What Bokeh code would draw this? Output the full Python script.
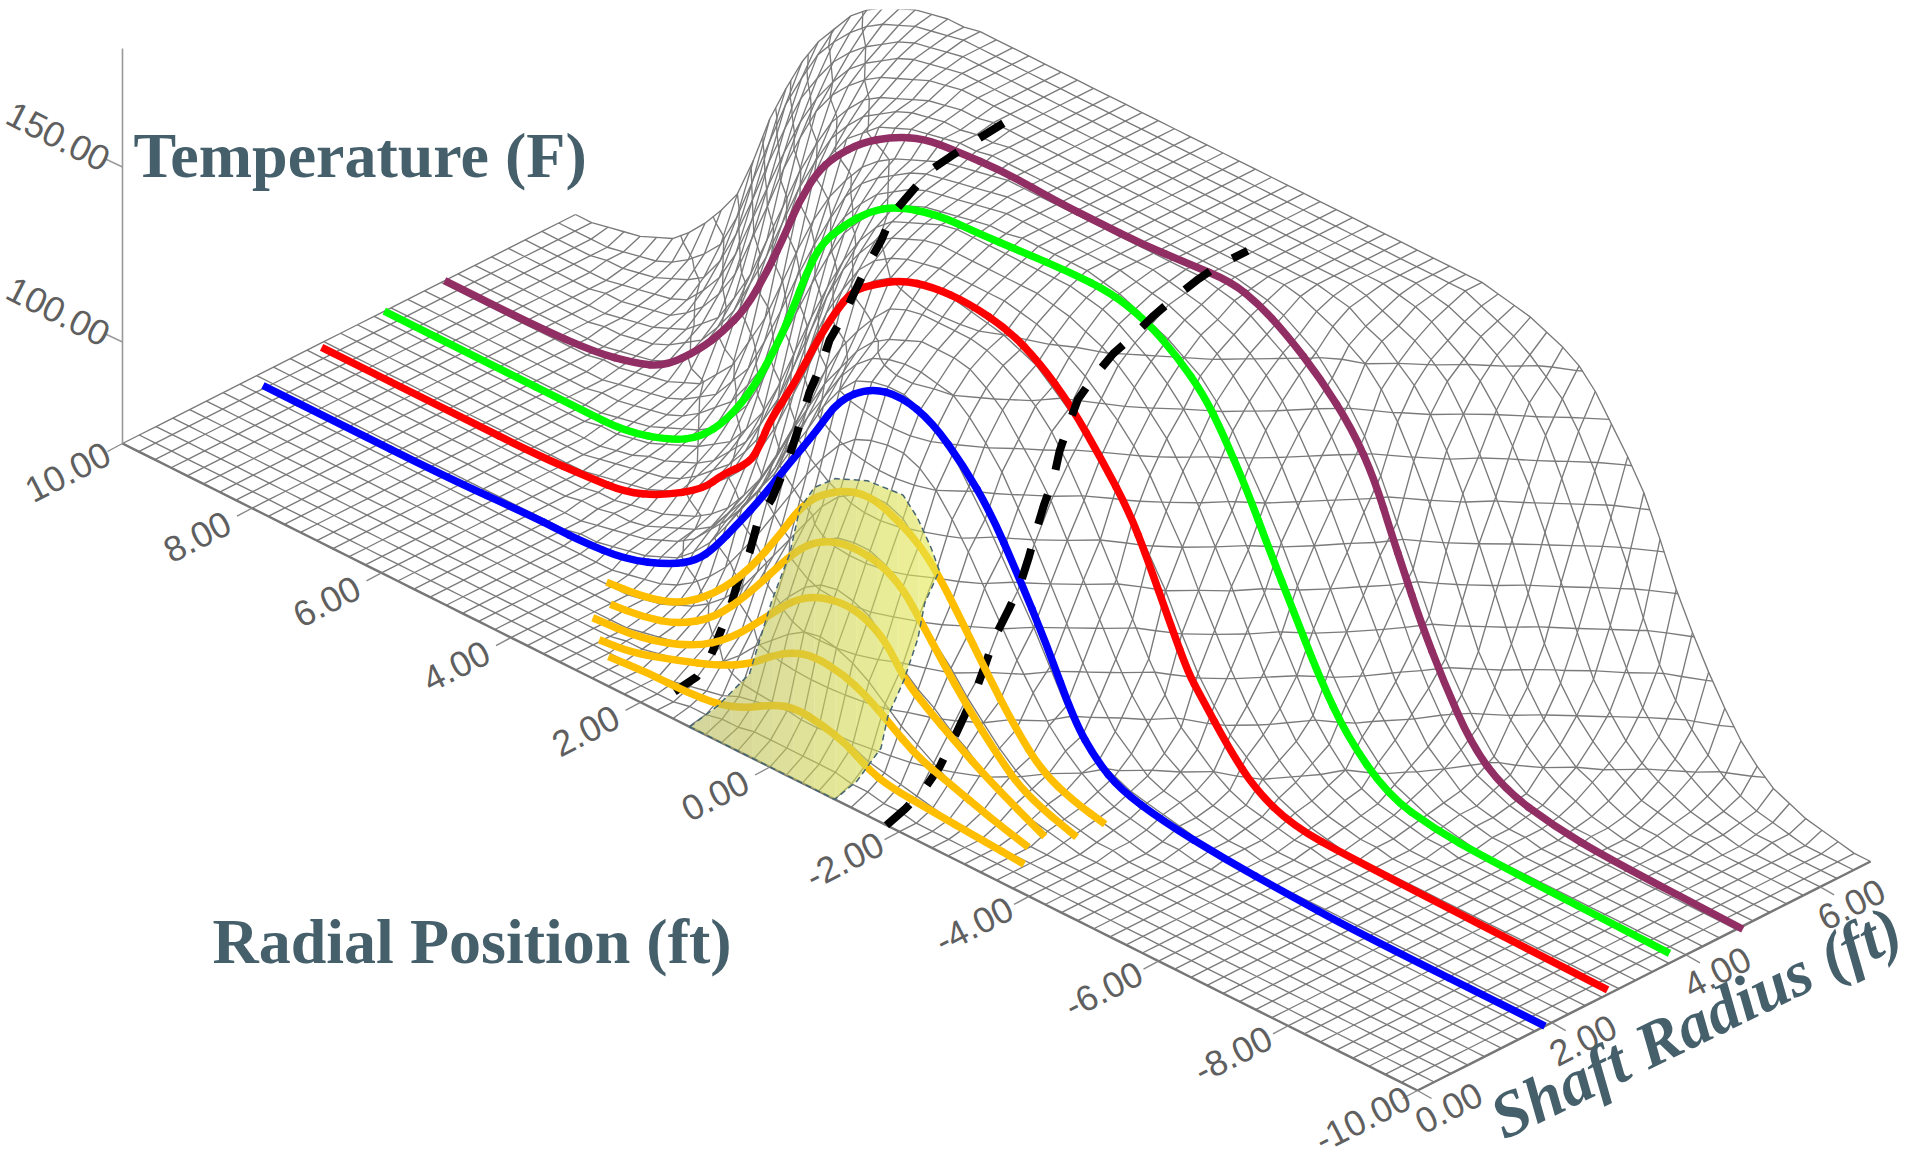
import numpy as np
from bokeh.plotting import figure
from bokeh.embed import file_html
from bokeh.resources import INLINE
from bokeh.core.properties import value

# ---------- data ----------
BASE_T = 71          # floor temperature (F)
radial = [10 - 0.25 * i for i in range(81)]
shaft = [0.25 * j for j in range(28)]

# rise above BASE_T (F); rows: shaft radius; columns: radial 10, 9.5, ... -10
rise = [
 [0,0,0,0,0,0,0,0,0,0, 0,0,0,0,0,0,0,0,0,0, 0,0,0,0,0,0,0,0,0,0, 0,0,0,0,0,0,0,0,0,0,0],
 [0,0,0,0,0,0,0,0,0,0, 0,0,0,0,0,0,0,1,2,3, 3,3,2,1,0,0,0,0,0,0, 0,0,0,0,0,0,0,0,0,0,0],
 [0,0,0,0,0,0,0,0,0,0, 0,0,0,0,0,0,1,3,6,8, 10,9,6,4,2,1,0,0,0,0, 0,0,0,0,0,0,0,0,0,0,0],
 [0,0,0,0,0,0,0,0,0,0, 0,0,0,0,1,2,4,9,18,26, 30,27,20,13,7,3,1,0,0,0, 0,0,0,0,0,0,0,0,0,0,0],
 [0,0,0,0,0,0,0,0,0,0, 0,0,0,0,1,3,7,14,26,37, 41,38,28,21,14,7,3,1,0,0, 0,0,0,0,0,0,0,0,0,0,0],
 [0,0,0,0,0,0,0,0,0,0, 0,0,0,1,2,6,14,26,39,48, 52,50,40,30,19,10,5,2,1,0, 0,0,0,0,0,0,0,0,0,0,0],
 [0,0,0,0,0,0,0,0,0,0, 0,0,0,1,4,9,18,32,46,58, 63,61,50,37,23,12,6,3,1,0, 0,0,0,0,0,0,0,0,0,0,0],
 [0,0,0,0,0,0,0,0,0,0, 0,0,1,3,8,17,31,47,62,72, 75,73,63,48,32,18,9,4,2,1, 0,0,0,0,0,0,0,0,0,0,0],
 [0,0,0,0,0,0,0,0,0,0, 1,2,4,8,17,32,46,63,79,86, 87,82,70,55,39,21,10,6,4,2, 1,0,0,0,0,0,0,0,0,0,0],
 [0,0,0,0,0,0,0,0,0,0, 1,3,6,11,21,34,53,70,84,90, 91,89,80,66,49,31,16,8,5,2, 1,0,0,0,0,0,0,0,0,0,0],
 [0,0,0,0,0,0,0,0,0,1, 2,3,7,12,24,41,60,76,88,93, 95,94,87,75,59,41,24,12,6,3, 1,0,0,0,0,0,0,0,0,0,0],
 [0,0,0,0,0,0,0,0,0,1, 2,4,8,15,28,47,68,84,95,98, 98,97,92,83,68,50,32,17,9,4, 2,1,0,0,0,0,0,0,0,0,0],
 [0,0,0,0,0,0,0,0,0,2, 4,8,15,24,41,63,85,96,101,102, 101,99,95,87,78,65,49,30,17,9, 4,1,0,0,0,0,0,0,0,0,0],
 [0,0,0,0,0,0,0,0,1,3, 5,10,18,31,51,75,92,100,103,104, 104,103,100,94,86,75,59,40,23,12, 5,2,1,0,0,0,0,0,0,0,0],
 [0,0,0,0,0,0,0,0,1,4, 7,12,22,39,63,85,98,103,106,106, 106,106,104,100,93,83,68,50,30,15, 7,3,1,0,0,0,0,0,0,0,0],
 [0,0,0,0,0,0,0,1,2,5, 9,15,28,50,73,91,101,105,108,108, 108,108,107,104,98,89,76,58,38,20, 9,4,2,1,0,0,0,0,0,0,0],
 [0,0,0,0,0,0,0,1,3,7, 12,23,45,67,86,97,103,106,108,109, 110,110,109,106,102,96,85,69,50,31, 16,7,3,1,0,0,0,0,0,0,0],
 [0,0,0,0,0,0,1,2,4,9, 17,32,55,78,92,100,105,107,109,110, 110,110,110,108,105,100,91,77,59,39, 21,10,4,2,1,0,0,0,0,0,0],
 [0,0,0,0,0,0,1,3,6,12, 24,45,68,87,97,103,106,108,110,110, 110,110,110,109,107,103,96,84,67,47, 27,13,5,2,1,0,0,0,0,0,0],
 [0,0,0,0,0,1,2,4,8,18, 36,60,80,93,100,104,107,109,110,110, 110,110,110,110,109,106,100,90,75,56, 34,17,7,3,1,0,0,0,0,0,0],
 [0,0,0,0,0,1,3,8,18,33, 56,79,94,102,106,108,109,110,110,110, 110,110,110,110,110,108,103,95,83,63, 41,23,10,4,2,1,0,0,0,0,0],
 [0,0,0,0,1,2,5,11,24,44, 68,87,98,104,107,108,109,110,110,110, 110,110,110,110,110,110,107,102,94,78, 57,33,18,9,4,1,0,0,0,0,0],
 [0,0,0,0,1,3,7,15,32,56, 78,93,101,105,108,109,110,110,110,110, 110,110,110,110,110,110,109,105,99,89, 71,47,25,13,7,2,1,0,0,0,0],
 [0,0,0,1,2,4,11,25,49,73, 90,99,104,108,110,110,110,110,110,110, 110,110,110,110,110,110,110,107,103,96, 80,60,35,19,10,4,2,1,0,0,0],
 [0,0,0,1,3,6,17,38,62,82, 95,102,107,109,110,110,110,110,110,110, 110,110,110,110,110,110,110,109,106,100, 90,73,50,27,14,7,3,1,0,0,0],
 [0,0,1,2,5,10,27,52,75,90, 99,105,108,110,110,110,110,110,110,110, 110,110,110,110,110,110,110,110,108,104, 97,85,64,40,21,11,5,2,1,0,0],
 [0,0,1,3,8,17,40,66,85,96, 103,107,109,110,110,110,110,110,110,110, 110,110,110,110,110,110,110,110,110,106, 101,93,77,55,31,17,8,3,1,0,0],
 [0,1,3,7,16,29,55,76,90,100, 105,108,109,110,110,110,110,110,110,110, 110,110,110,110,110,110,110,110,110,108, 105,100,88,73,50,31,16,7,3,1,0],
]
# same rows, columns at radial 9.75, 9.25, ... -9.75
rise_mid = [
 [0,0,0,0,0,0,0,0,0,0, 0,0,0,0,0,0,0,0,0,0, 0,0,0,0,0,0,0,0,0,0, 0,0,0,0,0,0,0,0,0,0],
 [0,0,0,0,0,0,0,0,0,0, 0,0,0,0,0,0,0,1,2,3, 3,3,2,1,0,0,0,0,0,0, 0,0,0,0,0,0,0,0,0,0],
 [0,0,0,0,0,0,0,0,0,0, 0,0,0,0,0,0,2,4,7,9, 10,8,5,3,1,0,0,0,0,0, 0,0,0,0,0,0,0,0,0,0],
 [0,0,0,0,0,0,0,0,0,0, 0,0,0,0,1,3,6,13,22,29, 29,24,16,10,5,2,0,0,0,0, 0,0,0,0,0,0,0,0,0,0],
 [0,0,0,0,0,0,0,0,0,0, 0,0,0,0,2,5,10,20,32,40, 40,33,24,17,10,5,2,0,0,0, 0,0,0,0,0,0,0,0,0,0],
 [0,0,0,0,0,0,0,0,0,0, 0,0,0,1,3,9,20,33,44,51, 52,46,35,24,14,7,3,1,0,0, 0,0,0,0,0,0,0,0,0,0],
 [0,0,0,0,0,0,0,0,0,0, 0,0,0,2,6,13,25,39,53,61, 63,56,44,30,17,9,4,2,0,0, 0,0,0,0,0,0,0,0,0,0],
 [0,0,0,0,0,0,0,0,0,0, 0,0,2,5,12,24,39,55,68,74, 75,69,56,40,25,13,6,3,1,0, 0,0,0,0,0,0,0,0,0,0],
 [0,0,0,0,0,0,0,0,0,0, 1,3,6,12,24,39,55,72,84,87, 85,77,63,47,30,15,8,5,3,1, 0,0,0,0,0,0,0,0,0,0],
 [0,0,0,0,0,0,0,0,0,0, 2,4,8,16,27,43,62,78,88,91, 90,85,74,58,40,23,12,6,3,1, 0,0,0,0,0,0,0,0,0,0],
 [0,0,0,0,0,0,0,0,0,1, 2,5,9,18,32,51,69,83,91,95, 95,91,81,68,50,32,18,9,4,2, 0,0,0,0,0,0,0,0,0,0],
 [0,0,0,0,0,0,0,0,0,1, 3,6,11,21,37,58,77,90,97,98, 98,95,88,76,59,41,24,13,6,3, 1,0,0,0,0,0,0,0,0,0],
 [0,0,0,0,0,0,0,0,1,3, 6,11,19,32,52,75,91,99,102,102, 100,97,91,83,72,57,39,23,13,6, 2,0,0,0,0,0,0,0,0,0],
 [0,0,0,0,0,0,0,0,2,4, 7,14,24,41,63,84,97,102,104,104, 104,102,97,90,81,67,49,31,17,8, 3,1,0,0,0,0,0,0,0,0],
 [0,0,0,0,0,0,0,0,2,5, 9,17,30,51,75,92,101,105,106,106, 106,105,102,97,88,76,59,40,22,11, 5,2,0,0,0,0,0,0,0,0],
 [0,0,0,0,0,0,0,1,3,7, 12,21,38,62,83,97,103,107,108,108, 108,108,106,101,94,83,67,48,29,14, 6,3,1,0,0,0,0,0,0,0],
 [0,0,0,0,0,0,0,2,5,9, 17,33,56,77,92,100,105,107,109,110, 110,110,108,104,99,91,77,60,40,23, 11,5,2,0,0,0,0,0,0,0],
 [0,0,0,0,0,0,1,3,6,13, 24,43,67,86,97,103,106,108,110,110, 110,110,109,107,103,96,85,68,49,30, 15,7,3,1,0,0,0,0,0,0],
 [0,0,0,0,0,0,2,4,9,18, 34,57,78,93,100,105,107,109,110,110, 110,110,110,108,105,100,91,76,57,37, 20,9,3,1,0,0,0,0,0,0],
 [0,0,0,0,0,1,3,6,13,27, 48,71,87,97,102,106,108,110,110,110, 110,110,110,110,108,103,96,83,66,45, 25,12,5,2,0,0,0,0,0,0],
 [0,0,0,0,0,2,5,13,25,45, 68,87,98,104,107,109,110,110,110,110, 110,110,110,110,109,106,100,90,74,52, 31,16,7,3,1,0,0,0,0,0],
 [0,0,0,0,1,3,8,17,34,56, 78,93,101,106,108,109,110,110,110,110, 110,110,110,110,110,109,105,99,87,68, 45,25,13,6,2,0,0,0,0,0],
 [0,0,0,0,2,5,11,23,44,68, 87,98,103,107,109,110,110,110,110,110, 110,110,110,110,110,110,108,103,95,81, 59,35,18,9,4,1,0,0,0,0],
 [0,0,0,1,3,7,17,37,62,83, 95,102,106,109,110,110,110,110,110,110, 110,110,110,110,110,110,109,105,100,89, 70,47,26,14,7,3,1,0,0,0],
 [0,0,0,2,4,11,26,50,73,89, 99,105,108,110,110,110,110,110,110,110, 110,110,110,110,110,110,110,108,103,96, 82,62,38,20,10,5,2,0,0,0],
 [0,0,1,3,7,17,39,64,83,95, 102,107,109,110,110,110,110,110,110,110, 110,110,110,110,110,110,110,109,106,101, 92,75,52,30,15,8,3,1,0,0],
 [0,0,2,5,12,27,53,76,91,100, 105,108,110,110,110,110,110,110,110,110, 110,110,110,110,110,110,110,110,108,104, 97,86,66,42,23,12,5,2,0,0],
 [0,2,5,11,22,41,66,84,96,103, 107,109,110,110,110,110,110,110,110,110, 110,110,110,110,110,110,110,110,109,107, 103,95,81,62,40,23,11,5,2,0],
]

contour_temps = [80, 90, 100, 110, 120, 130, 140, 150, 160, 170]

blue_s = 1.9
blue_r = [9.8,8.68,6.97,5.71,5.24,4.9,4.2,3.5,3.1,2.83,2.44,2.1,1.67,1.25,.91,.42,-.06,-.54,-1.02,-1.44,-1.85,-2.3,-2.73,-3.07,-3.44,-4.1,-5.05,-6,-7,-10]
blue_t = [0,0,0,1,1,1,2,7,12,18,29,39,53,66,78,86,88,85,77,67.5,54,38,20,12,7,4,2,1,0,0]

red_s = 2.9
red_r = [9.93,7.79,6.61,5.79,5.24,4.7,4.03,3.74,3.32,3.15,3.01,2.63,2.29,2.01,1.73,1.39,.97,.5,-.06,-.68,-1.16,-1.63,-2.13,-2.55,-2.81,-3.18,-3.46,-3.64,-4.08,-4.49,-5.06,-5.97,-9.93]
red_t = [0,0,0,1,2,6,14,21,28,35,43,57,72,83,92,97,102,104.5,105,103,98,90.5,79,68,58,42,30.5,26,15,7,2,1,0]

green_s = 3.9
green_r = [10,8.35,6.97,6.28,5.58,5.12,4.7,4.29,3.92,3.67,3.5,3.27,2.91,2.49,2.09,1.46,.84,.16,-.59,-1.23,-1.77,-2.26,-2.66,-2.94,-3.3,-3.7,-4.02,-4.44,-4.87,-5.5,-6.22,-7,-9.85]
green_t = [0,0,0,0,4,9,18,31,47,60,70,81,90,98,103,106.6,107,108,109,109,106,100,93,85,73,57,45,29,16,5,2,1,0]

purple_s = 4.8
purple_r = [10,8.58,7.68,7.07,6.59,6.05,5.71,5.35,5.01,4.73,4.53,4.25,3.98,3.56,3.08,2.6,2.12,1.35,.53,-.08,-.78,-1.47,-2.15,-2.57,-2.99,-3.53,-4.02,-4.36,-4.64,-4.8,-5.07,-5.43,-5.86,-6.36,-7.13,-7.98,-10.05]
purple_t = [0,0,1,3.5,7,17,25,35,49,62.5,73,84,91,99,105,109,110,111,110,110,110,111,112,109.5,105,97,87,76,62,54.6,42,28,14,6,2.5,1,0]

orange_s = [1.53, 1.23, 0.9, 0.62, 0.44]
orange_r = [
 [4.11,3.55,3,2.44,1.9,1.41,1.15,.85,.36,-.03,-.41,-.75,-1.03,-1.36,-1.74,-2.19,-2.62,-3.12,-3.59],
 [3.74,3.24,2.69,2.13,1.59,.97,.65,.29,-.06,-.45,-.79,-1.07,-1.39,-1.78,-2.22,-2.66,-3.46],
 [3.67,2.9,2.12,1.52,.99,.58,.22,-.2,-.53,-.86,-1.14,-1.52,-1.91,-2.46,-3.31],
 [3.28,2.78,2.11,1.39,.93,.62,.3,-.04,-.48,-.86,-1.17,-1.63,-2.13,-2.75,-3.35],
 [2.95,2.32,1.76,1.24,.82,.39,.05,-.34,-.73,-1.05,-1.39,-2.04,-2.76,-3.47],
]
orange_t = [
 [0,1,4,12,24,39,48,55,61,62,59,55,49,40,29,17,8,4,2],
 [0,1,4,11,23,39.5,46,50,51,50,46,39,31,21.5,12.5,5,0],
 [0,1,6,14,25,33.5,38,40,39,35,27,21.5,16.5,10,2],
 [0,1,5,10,15,20,24,26,25,22,18,12,9,5,2],
 [0,1,1,2,5,10,12,11,9,5,3,2,1,0],
]

dash1_r = 1.9
dash1_s = [.41,.74,.95,1.11,1.26,1.35,1.53,1.66,1.86,2.03,2.17,2.29,2.42,2.59,2.72,2.93,3.09,3.29,3.49,3.66,3.9,4.22,4.52,4.9,5.36]
dash1_t = [0,1,5,11,17,22,29,37,41,47,53,59,66,72,78,83,88,94,99,105,108,112,113,114,115]
dash2_r = -1.8
dash2_s = [0,.28,.57,.79,1.0,1.16,1.34,1.48,1.61,1.82,1.98,2.12,2.22,2.35,2.49,2.58,2.71,2.85,3.08,3.38,3.65,3.98,4.28,4.65,4.95,5.38]
dash2_t = [0,2,5,9,15,20,26,32,38,44,49,56,62,69,75,82,88,94,98,102,104,107,109,111,112,112]

patch_r = [1.24,1.24,1.24,1.24,1.24,1.24,1.24,1.18,.86,.36,-.19,-.41,-.62,-.75,-1,-1,-1,-1,-1,-1,-1,-.56,.15,.81]
patch_s = [0,.42,.89,1.03,1.22,1.49,1.64,1.8,1.8,1.8,1.8,1.8,1.8,1.8,1.34,1.24,1.03,.79,.69,.33,0,0,0,0]
patch_t = [0,2,6.5,14,24,35,46.5,51.5,57,61,62,57.6,51,45.6,43,34,24,16,8,2,0,0,0,0]

radial_ticks = [10, 8, 6, 4, 2, 0, -2, -4, -6, -8, -10]
shaft_ticks = [0, 2, 4, 6]
temp_ticks = [100, 150]
FONT_TICK = "Liberation Sans"
FONT_TITLE = "Liberation Serif"

# ---------- projection of the 3D box onto the page ----------
def gx(r, s):
    r, s = np.asarray(r, float), np.asarray(s, float)
    return 122 + 1295 * (10 - r) / 20 + 453 * s / 6.75

def gy(r, s, dT=0):
    r, s, dT = np.asarray(r, float), np.asarray(s, float), np.asarray(dT, float)
    return 443 + 647 * (10 - r) / 20 - 229 * s / 6.75 - 3.5 * dT

R = np.array(radial)
S = np.array(shaft)
H = np.zeros((len(S), len(R)))
H[:, ::2] = np.array(rise, float)
H[:, 1::2] = np.array(rise_mid, float)

p = figure(width=1920, height=1160, x_range=(0, 1920), y_range=(1160, 9),
           tools="", toolbar_location=None, output_backend="svg",
           x_axis_location=None, y_axis_location=None, min_border=0, min_border_top=9)
p.grid.visible = False
p.outline_line_color = None
p.background_fill_color = "white"

MESH = "#7a7a7a"
MESH_W = 1.35
xs, ys = [], []
for j, s in enumerate(S):
    xs.append(gx(R, s).tolist()); ys.append(gy(R, s, H[j]).tolist())
for i, r in enumerate(R):
    xs.append(gx(r, S).tolist()); ys.append(gy(r, S, H[:, i]).tolist())
p.multi_line(xs, ys, line_color=MESH, line_width=MESH_W)

# contour lines of the temperature surface (marching squares over the mesh)
cx, cy = [], []
for T in contour_temps:
    L = T - BASE_T
    for j in range(len(S) - 1):
        for i in range(len(R) - 1):
            corners = [(R[i], S[j], H[j, i]), (R[i + 1], S[j], H[j, i + 1]),
                       (R[i + 1], S[j + 1], H[j + 1, i + 1]), (R[i], S[j + 1], H[j + 1, i])]
            pts = []
            for k in range(4):
                a, b = corners[k], corners[(k + 1) % 4]
                if (a[2] < L) != (b[2] < L):
                    f = (L - a[2]) / (b[2] - a[2])
                    pts.append((a[0] + f * (b[0] - a[0]), a[1] + f * (b[1] - a[1])))
            for q in range(0, len(pts) - 1, 2):
                (r0, s0), (r1, s1) = pts[q], pts[q + 1]
                cx.append([float(gx(r0, s0)), float(gx(r1, s1))])
                cy.append([float(gy(r0, s0, L)), float(gy(r1, s1, L))])
p.multi_line(cx, cy, line_color=MESH, line_width=MESH_W)

# box edges, axis, ticks
p.line(gx(R, 0), gy(R, 0), line_color="#777777", line_width=2.4)
p.line(gx(-10, S), gy(-10, S), line_color="#777777", line_width=2.4)
p.line([122, 122], [443, 48], line_color="#999999", line_width=1.6)

TICK = dict(text_align="center", text_baseline="middle", text_font=value(FONT_TICK),
            text_font_size="36px", text_color="#5f5f5f")
for r in radial_ticks:
    x0, y0 = float(gx(r, 0)), float(gy(r, 0))
    p.line([x0, x0 - 15], [y0, y0 + 8], line_color="#888888", line_width=1.4)
    p.text([x0 - 55], [y0 + 28], text=["%.2f" % r], angle=np.radians(27), **TICK)
for s in shaft_ticks:
    x0, y0 = float(gx(-10, s)), float(gy(-10, s))
    p.line([x0, x0 + 14], [y0, y0 + 8], line_color="#888888", line_width=1.4)
    p.text([x0 + 31], [y0 + 17], text=["%.2f" % s], angle=np.radians(27), **TICK)
for T in temp_ticks:
    y0 = 443 - 3.5 * (T - BASE_T)
    p.line([122, 105], [y0, y0 - 8], line_color="#999999", line_width=1.4)
    p.text([58], [y0 - 31], text=["%.2f" % T], angle=np.radians(-27), **TICK)

def curve(xv, yv, color, width):
    """Draw the read points with quadratic curves so the thick line has no corners."""
    xv, yv = np.asarray(xv, float), np.asarray(yv, float)
    mx, my = (xv[:-1] + xv[1:]) / 2, (yv[:-1] + yv[1:]) / 2
    p.line([xv[0], mx[0]], [yv[0], my[0]], line_color=color, line_width=width)
    p.line([mx[-1], xv[-1]], [my[-1], yv[-1]], line_color=color, line_width=width)
    p.quadratic(x0=mx[:-1], y0=my[:-1], x1=mx[1:], y1=my[1:], cx=xv[1:-1], cy=yv[1:-1],
                line_color=color, line_width=width, line_cap="round")

W = 7.5
for s, rr, tt, col in [(blue_s, blue_r, blue_t, "#0000ff"), (red_s, red_r, red_t, "#ff0000"),
                       (green_s, green_r, green_t, "#00ff00"), (purple_s, purple_r, purple_t, "#912f65")]:
    curve(gx(rr, s), gy(rr, s, tt), col, W)

for r, ss, tt, dash in [(dash1_r, dash1_s, dash1_t, "28 26"), (dash2_r, dash2_s, dash2_t, "31 26")]:
    p.line(gx(r, ss), gy(r, ss, tt), line_color="black", line_width=8, line_dash=dash)

for s, rr, tt in zip(orange_s, orange_r, orange_t):
    curve(gx(rr, s), gy(rr, s, tt), "#ffbf00", W)

# translucent patch, shaded from left to right in vertical bands
px_ = gx(patch_r, patch_s)
py_ = gy(patch_r, patch_s, patch_t)

def clip(poly, xlim, keep_right):
    out = []
    for k in range(len(poly)):
        a, b = poly[k], poly[(k + 1) % len(poly)]
        ia = (a[0] >= xlim) if keep_right else (a[0] <= xlim)
        ib = (b[0] >= xlim) if keep_right else (b[0] <= xlim)
        if ia:
            out.append(a)
        if ia != ib:
            f = (xlim - a[0]) / (b[0] - a[0])
            out.append((xlim, a[1] + f * (b[1] - a[1])))
    return out

poly = list(zip(px_.tolist(), py_.tolist()))
N = 12
edges = np.linspace(px_.min(), px_.max(), N + 1)
left, right = np.array([182, 184, 90]), np.array([228, 234, 80])
for b in range(N):
    piece = clip(clip(poly, edges[b], True), edges[b + 1], False)
    if len(piece) < 3:
        continue
    c = left + (right - left) * (b + 0.5) / N
    col = "#%02x%02x%02x" % tuple(int(v) for v in c)
    p.patch([q[0] for q in piece], [q[1] for q in piece], fill_color=col, fill_alpha=0.6, line_color=None)
p.patch(px_, py_, fill_color=None, line_color="#456573", line_width=1.5, line_dash="6 4")

# titles
TITLE = "#455f6b"
p.text([133], [155], text=["Temperature (F)"], text_align="left", text_baseline="alphabetic",
       text_font=value(FONT_TITLE), text_font_style="bold", text_font_size="64px", text_color=TITLE)
p.text([212], [941], text=["Radial Position (ft)"], text_align="left", text_baseline="alphabetic",
       text_font=value(FONT_TITLE), text_font_style="bold", text_font_size="64px", text_color=TITLE)
p.text([1494], [1120], text=["Shaft Radius (ft)"], angle=np.radians(26), text_align="left",
       text_baseline="alphabetic", text_font=value(FONT_TITLE), text_font_style="bold italic",
       text_font_size="65px", text_color=TITLE)

open("out.html", "w").write(file_html(p, INLINE))
